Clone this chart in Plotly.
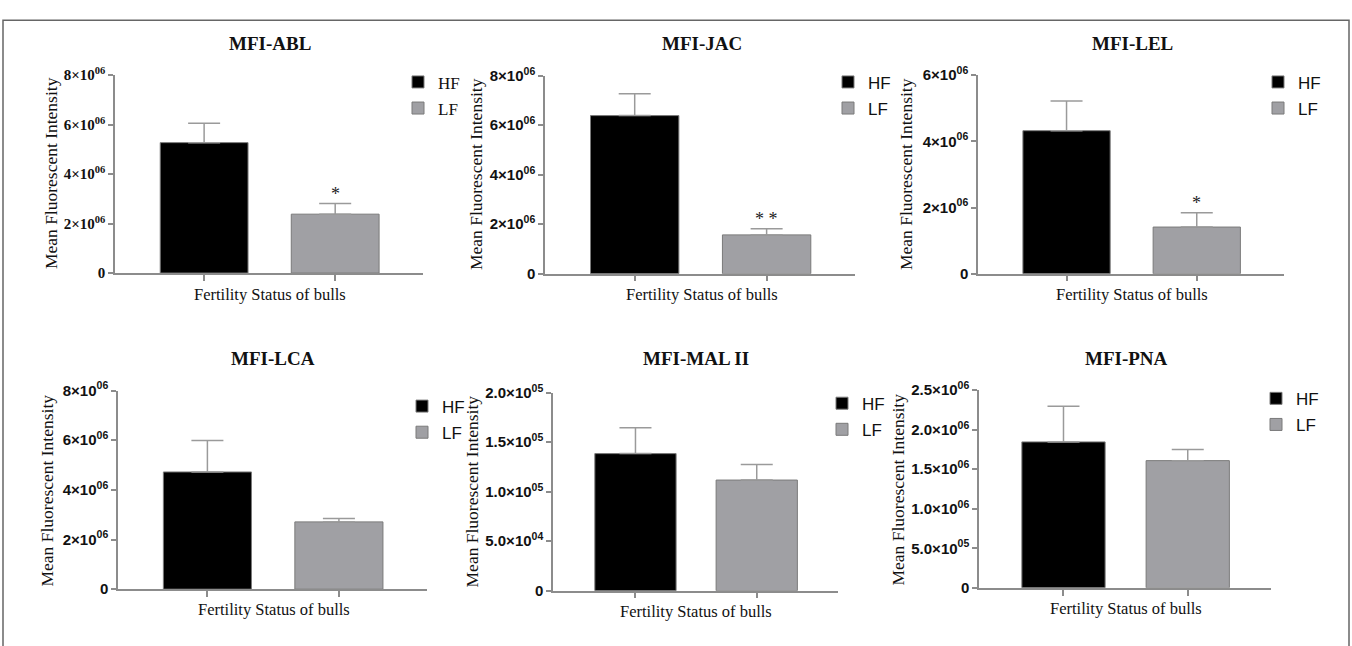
import plotly.graph_objects as go

W, H = 1352, 646

categories = ["HF", "LF"]
panel_titles = ["MFI-ABL", "MFI-JAC", "MFI-LEL", "MFI-LCA", "MFI-MAL II", "MFI-PNA"]
hf_mean = [5.27e6, 6.39e6, 4.32e6, 4.72e6, 1.385e5, 1.846e6]
hf_err = [0.78e6, 0.88e6, 0.90e6, 1.27e6, 0.262e5, 0.45e6]
lf_mean = [2.38e6, 1.57e6, 1.41e6, 2.71e6, 1.118e5, 1.609e6]
lf_err = [0.43e6, 0.25e6, 0.43e6, 0.14e6, 0.157e5, 0.142e6]
significance = ["*", "**", "*", "", "", ""]
y_max = [8e6, 8e6, 6e6, 8e6, 2e5, 2.5e6]
tick_vals = [
    [0, 2e6, 4e6, 6e6, 8e6],
    [0, 2e6, 4e6, 6e6, 8e6],
    [0, 2e6, 4e6, 6e6],
    [0, 2e6, 4e6, 6e6, 8e6],
    [0, 5e4, 1e5, 1.5e5, 2e5],
    [0, 5e5, 1e6, 1.5e6, 2e6, 2.5e6],
]
tick_text = [
    ["0", "2×10<sup>06</sup>", "4×10<sup>06</sup>", "6×10<sup>06</sup>", "8×10<sup>06</sup>"],
    ["0", "2×10<sup>06</sup>", "4×10<sup>06</sup>", "6×10<sup>06</sup>", "8×10<sup>06</sup>"],
    ["0", "2×10<sup>06</sup>", "4×10<sup>06</sup>", "6×10<sup>06</sup>"],
    ["0", "2×10<sup>06</sup>", "4×10<sup>06</sup>", "6×10<sup>06</sup>", "8×10<sup>06</sup>"],
    ["0", "5.0×10<sup>04</sup>", "1.0×10<sup>05</sup>", "1.5×10<sup>05</sup>", "2.0×10<sup>05</sup>"],
    ["0", "5.0×10<sup>05</sup>", "1.0×10<sup>06</sup>", "1.5×10<sup>06</sup>", "2.0×10<sup>06</sup>", "2.5×10<sup>06</sup>"],
]
y_title = "Mean Fluorescent Intensity"
x_title = "Fertility Status of bulls"

# layout geometry in pixels: (x_left, x_right, y_top, y_bottom)
boxes = [
    (115, 423, 66, 270),
    (545, 855, 66.7, 270.7),
    (978, 1284, 66, 270.7),
    (118, 427, 391, 595.7),
    (553, 838, 393.3, 597.3),
    (979, 1271, 390.7, 594.3),
]
title_pos = [(270, 33), (702, 33), (1132, 33), (273, 358), (696, 358), (1126, 358)]
xtitle_pos = [(270, 292), (702, 292.5), (1132, 292.5), (274, 617), (696, 619), (1126, 616)]
ytitle_pos = [(51, 167), (476, 168), (906, 168), (47, 494), (472, 495), (897, 493)]
legend_pos = [(398, 55), (828, 55), (1258, 55), (402, 389), (822, 386), (1256, 381)]

SERIF = "Liberation Serif, Times New Roman, serif"
SANS = "Liberation Sans, Arial, sans-serif"
HF_COLOR = "#000000"
LF_COLOR = "#a0a0a4"
AXIS_COLOR = "#8c8c8c"
ERR_COLOR = "#9a9a9a"


def px_x(v):
    return v / W


def px_y(v):
    return 1 - v / H


fig = go.Figure()
layout = dict(
    width=W, height=H,
    margin=dict(l=0, r=0, t=0, b=0),
    paper_bgcolor="white", plot_bgcolor="white",
    barmode="overlay",
    annotations=[], shapes=[],
)

for i in range(6):
    sfx = "" if i == 0 else str(i + 1)
    xa, ya = "x" + sfx, "y" + sfx
    leg = "legend" + sfx
    tick_font = SERIF if i == 0 else SANS
    leg_font = SERIF if i == 0 else SANS
    for cat, mean, err, col in [("HF", hf_mean[i], hf_err[i], HF_COLOR),
                                ("LF", lf_mean[i], lf_err[i], LF_COLOR)]:
        fig.add_trace(go.Bar(
            x=[cat], y=[mean], name=cat, xaxis=xa, yaxis=ya, legend=leg,
            legendgroup=f"{cat}{i}", width=0.67,
            marker=dict(color=col, line=dict(color="#7a7a7a", width=1)),
            error_y=dict(type="data", symmetric=False, array=[err], arrayminus=[0],
                         color=ERR_COLOR, thickness=1.5, width=16),
            showlegend=True,
        ))
    x0, x1, y0, y1 = boxes[i]
    layout["xaxis" + sfx] = dict(
        domain=[px_x(x0), px_x(x1)], anchor=ya, type="category",
        categoryorder="array", categoryarray=categories,
        range=[-0.68, 1.67], showgrid=False, zeroline=False,
        showline=True, linecolor=AXIS_COLOR, linewidth=1.5,
        ticks="outside", ticklen=6, tickcolor=AXIS_COLOR, tickwidth=1.5,
        showticklabels=False, fixedrange=True,
    )
    layout["yaxis" + sfx] = dict(
        domain=[px_y(y1), px_y(y0)], anchor=xa, range=[0, y_max[i]],
        showgrid=False, zeroline=False, showline=True, linecolor=AXIS_COLOR,
        linewidth=1.5, ticks="outside", ticklen=5, tickcolor=AXIS_COLOR,
        tickwidth=1.5, tickmode="array", tickvals=tick_vals[i],
        ticktext=["<b>" + t + "</b>" for t in tick_text[i]],
        tickfont=dict(family=tick_font, size=15, color="#111"),
        fixedrange=True,
    )
    lx, ly = legend_pos[i]
    layout[leg] = dict(
        x=px_x(lx), y=px_y(ly), xanchor="left", yanchor="top",
        bgcolor="rgba(0,0,0,0)", traceorder="grouped", tracegroupgap=1,
        font=dict(family=leg_font, size=17, color="#111"),
        itemclick=False, itemdoubleclick=False,
    )
    tx, ty = title_pos[i]
    layout["annotations"].append(dict(
        text="<b>" + panel_titles[i] + "</b>", x=px_x(tx), y=px_y(ty),
        xref="paper", yref="paper", showarrow=False, xanchor="center", yanchor="middle",
        font=dict(family=SERIF, size=19, color="#111"),
    ))
    tx, ty = xtitle_pos[i]
    layout["annotations"].append(dict(
        text=x_title, x=px_x(tx), y=px_y(ty), xref="paper", yref="paper",
        showarrow=False, xanchor="center", yanchor="middle",
        font=dict(family=SERIF, size=16.5, color="#111"),
    ))
    tx, ty = ytitle_pos[i]
    layout["annotations"].append(dict(
        text=y_title, x=px_x(tx), y=px_y(ty), xref="paper", yref="paper",
        showarrow=False, xanchor="center", yanchor="middle", textangle=-90,
        font=dict(family=SERIF, size=17.5, color="#111"),
    ))
    if significance[i]:
        layout["annotations"].append(dict(
            text=" ".join(significance[i]), x="LF", y=lf_mean[i] + lf_err[i],
            xref=xa, yref=ya, showarrow=False, xanchor="center", yanchor="bottom",
            yshift=-2, font=dict(family=SERIF, size=18, color="#222"),
        ))

# outer frame (top, left, right)
layout["shapes"].append(dict(type="rect", xref="paper", yref="paper",
                             x0=px_x(3), x1=px_x(1349), y0=-0.05, y1=px_y(9.5),
                             line=dict(color="#666", width=1.5)))

fig.update_layout(**layout)
fig.write_html("out.html")
